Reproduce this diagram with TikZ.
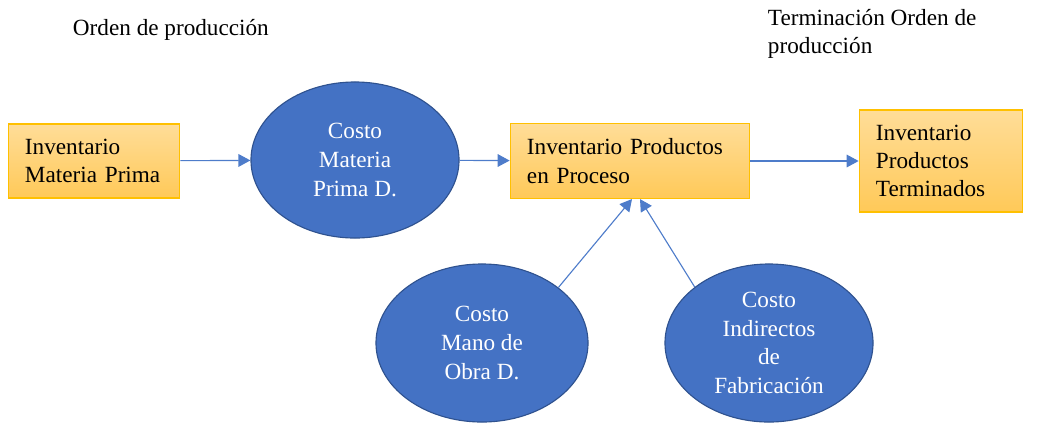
\documentclass[tikz,border=0pt]{standalone}
\usepackage{fontspec}
\setmainfont{Liberation Serif}
\usetikzlibrary{shapes, arrows.meta, positioning}
\definecolor{boxtop}{RGB}{255,221,152}
\definecolor{boxbottom}{RGB}{255,201,88}
\definecolor{boxline}{RGB}{255,192,0}
\definecolor{costblue}{RGB}{68,114,196}
\definecolor{costline}{RGB}{47,82,143}
\definecolor{flowblue}{RGB}{78,124,202}

\begin{document}
\begin{tikzpicture}[x=0.025cm, y=-0.025cm,
  invbox/.style={draw=boxline, line width=0.8pt, top color=boxtop, bottom color=boxbottom, align=left, inner xsep=0.42cm, inner ysep=0pt, font=\fontsize{16.5}{20}\selectfont},
  costnode/.style={ellipse, draw=costline, line width=0.8pt, fill=costblue, text=white, align=center, inner sep=0pt, minimum width=5.2cm, minimum height=3.95cm, font=\fontsize{16.5}{20.5}\selectfont},
  flow/.style={draw=flowblue, line width=0.8pt, -{Triangle[length=8.5pt, width=9pt]}},
  note/.style={anchor=west, align=left, font=\fontsize{16.5}{20}\selectfont}]
  \useasboundingbox (0,0) rectangle (1044,423);

  % Headings
  \node[note] (orden) at (68,30) {Orden de producción};
  \node[note] (termina) at (763,34) {Terminación Orden de\\producción};

  % Inventories
  \node[invbox, text width=3.45cm, minimum height=1.85cm] (invmp) at (94,161) {Inventario\\Materia Prima};
  \node[invbox, text width=5.15cm, minimum height=1.875cm] (invpp) at (630,161) {Inventario Productos\\en Proceso};
  \node[invbox, text width=3.25cm, minimum height=2.55cm] (invpt) at (941,161) {Inventario\\Productos\\Terminados};

  % Costs
  \node[costnode, minimum height=3.9cm] (costmp) at (355,160) {Costo\\Materia\\Prima D.};
  \node[costnode, minimum width=5.3cm] (costmo) at (482,343) {Costo\\Mano de\\Obra D.};
  \node[costnode] (costif) at (769,343) {Costo\\Indirectos\\de\\Fabricación};

  % Flow
  \draw[flow] (invmp) -- (costmp);
  \draw[flow] (costmp) -- (invpp);
  \draw[flow] (invpp) -- (invpt);
  \draw[flow] (costmo.36) -- ([xshift=0.05cm]invpp.south);
  \draw[flow] (costif.143) -- ([xshift=0.25cm]invpp.south);
\end{tikzpicture}
\end{document}
